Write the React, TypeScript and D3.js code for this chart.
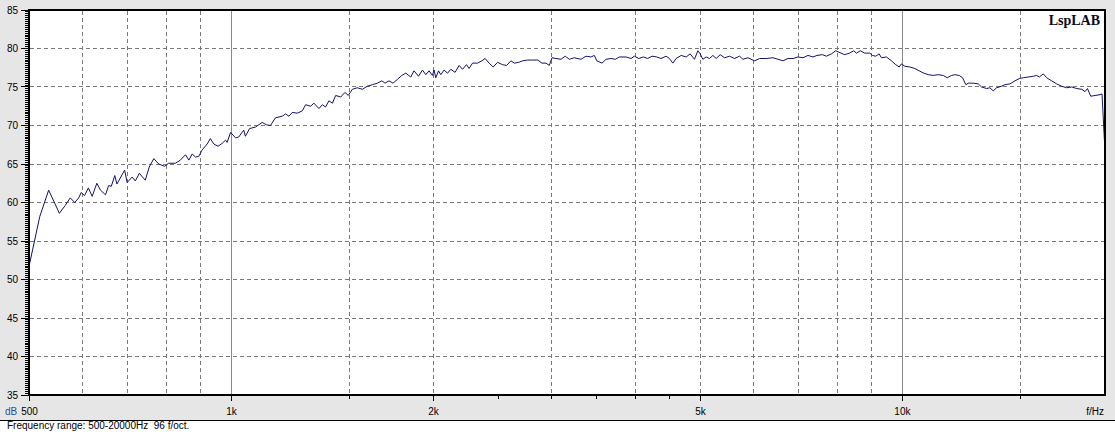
import React from 'react';
import * as d3 from 'd3';

const freqs: number[] = [
  500, 518, 534, 554, 565, 575, 584, 592, 597, 604, 612, 620, 630, 638, 649, 656, 662, 670, 675, 693,
  699, 711, 719, 729, 737, 744, 754, 766, 779, 795, 806, 825, 839, 854, 864, 874, 884, 894, 904, 920,
  930, 941, 955, 969, 980, 985, 997, 1014, 1025, 1043, 1049, 1064, 1086, 1111, 1127, 1143, 1163, 1190, 1204, 1218,
  1232, 1253, 1275, 1290, 1312, 1327, 1350, 1366, 1381, 1397, 1414, 1430, 1455, 1476, 1493, 1514, 1540, 1567, 1594, 1622,
  1650, 1675, 1694, 1717, 1741, 1768, 1794, 1819, 1850, 1871, 1900, 1926, 1948, 1970, 1993, 2004, 2016, 2035, 2051, 2074,
  2099, 2123, 2154, 2184, 2210, 2240, 2260, 2287, 2327, 2361, 2388, 2421, 2455, 2492, 2535, 2571, 2609, 2639, 2679, 2716,
  2763, 2811, 2860, 2902, 2942, 2976, 3004, 3045, 3098, 3144, 3188, 3243, 3318, 3376, 3435, 3474, 3503, 3567, 3616, 3679,
  3734, 3785, 3873, 3940, 3986, 4046, 4111, 4173, 4235, 4305, 4368, 4444, 4495, 4548, 4600, 4680, 4761, 4826, 4898, 4956,
  4995, 5042, 5100, 5158, 5218, 5278, 5351, 5430, 5525, 5620, 5718, 5785, 5885, 6020, 6124, 6267, 6413, 6524, 6637, 6752,
  6870, 6988, 7109, 7233, 7358, 7459, 7596, 7702, 7836, 7952, 8202, 8344, 8460, 8539, 8657, 8786, 8938, 9022, 9124, 9232,
  9305, 9466, 9630, 9774, 9889, 9967, 10081, 10256, 10433, 10593, 10761, 10925, 11115, 11308, 11504, 11663, 11837, 11971, 12153, 12292,
  12432, 12535, 12753, 12974, 13121, 13349, 13501, 13659, 13815, 14055, 14216, 14461, 14712, 14936, 15143, 15406, 15672, 15852, 15999, 16220,
  16406, 16690, 16979, 17273, 17573, 17878, 18188, 18503, 18714, 18870, 19084, 19369, 19705, 19839, 20000,
];
const levels: number[] = [
  52.0, 58.2, 61.6, 58.6, 59.6, 60.6, 60.0, 60.6, 61.3, 60.9, 61.9, 60.8, 62.5, 61.6, 61.0, 62.2, 62.1, 63.5, 62.4, 64.2,
  62.6, 63.3, 62.8, 63.8, 63.3, 62.9, 64.6, 65.7, 65.0, 64.7, 65.1, 65.1, 65.5, 66.2, 65.5, 66.3, 65.9, 66.0, 66.8, 67.6,
  68.3, 67.6, 67.3, 67.7, 68.1, 67.8, 69.1, 68.4, 68.5, 69.4, 68.6, 69.6, 69.8, 70.4, 70.1, 70.0, 71.0, 71.2, 71.5, 71.2,
  71.7, 71.6, 71.9, 72.7, 72.5, 72.9, 72.2, 72.7, 72.4, 73.2, 72.9, 73.9, 73.7, 74.3, 73.9, 74.7, 74.9, 74.7, 75.1, 75.3,
  75.5, 75.8, 75.5, 75.8, 75.5, 76.0, 76.5, 76.8, 76.3, 77.1, 76.4, 77.2, 76.6, 77.1, 76.5, 77.2, 76.2, 77.1, 76.6, 77.2,
  76.8, 77.3, 76.9, 77.8, 77.3, 77.9, 77.4, 78.1, 78.1, 78.4, 78.7, 78.1, 77.6, 78.2, 77.9, 77.8, 78.4, 78.1, 78.2, 78.4,
  78.5, 78.5, 78.5, 78.1, 78.1, 77.8, 78.8, 78.7, 78.6, 79.0, 78.6, 78.8, 78.6, 79.0, 78.9, 79.1, 78.4, 78.1, 78.6, 78.7,
  78.6, 78.9, 78.9, 78.7, 79.0, 78.7, 78.9, 78.7, 79.0, 78.9, 78.7, 79.0, 78.7, 78.1, 78.7, 79.1, 78.9, 79.3, 78.6, 79.7,
  79.3, 78.6, 78.9, 78.7, 79.1, 78.7, 79.2, 78.8, 79.0, 78.7, 79.0, 78.6, 78.8, 78.4, 78.7, 78.7, 78.8, 78.6, 78.4, 78.7,
  78.7, 78.9, 78.8, 79.1, 78.9, 79.1, 79.2, 79.0, 79.3, 79.7, 79.2, 79.4, 79.7, 79.4, 79.7, 79.4, 79.4, 79.1, 79.0, 79.3,
  78.8, 78.9, 78.4, 77.9, 77.6, 78.0, 77.7, 77.6, 77.4, 77.1, 76.8, 76.6, 76.5, 76.6, 76.5, 76.2, 76.5, 76.6, 76.5, 76.2,
  75.3, 75.5, 75.5, 75.4, 75.0, 74.8, 74.9, 74.5, 74.9, 75.1, 75.3, 75.4, 75.8, 76.1, 76.2, 76.3, 76.4, 76.5, 76.3, 76.7,
  76.2, 75.8, 75.4, 75.1, 74.9, 75.0, 74.8, 74.7, 74.4, 74.8, 73.8, 73.9, 74.0, 74.1, 68.1,
];

const yTicks: number[] = [35, 40, 45, 50, 55, 60, 65, 70, 75, 80, 85];
const xGridDashed: number[] = [600, 700, 800, 900, 1500, 2000, 3000, 4000, 5000, 6000, 7000, 8000, 9000, 15000];
const xGridSolid: number[] = [1000, 10000];
const xMajorTicks: number[] = [500, 1000, 2000, 5000, 10000];
const xMajorLabels: string[] = ['500', '1k', '2k', '5k', '10k'];
const xMinorTicks: number[] = [1500, 2500, 3000, 3500, 4000, 4500, 15000];

const W = 1115;
const H = 436;
const SANS = '"Liberation Sans", Arial, sans-serif';

export default function App() {
  const x = d3.scaleLog().domain([500, 20000]).range([29.5, 1104.4]);
  const y = d3.scaleLinear().domain([35, 85]).range([395, 10]);
  const snap = (v: number) => Math.floor(v) + 0.5;

  const pts: [number, number][] = freqs.map((f, i) => [f, levels[i]]);
  const path = d3
    .line<[number, number]>()
    .x((d) => x(d[0]))
    .y((d) => y(d[1]))(pts) as string;

  const minorY = d3.range(35, 85.001, 0.25);

  return (
    <svg
      width={W}
      height={H}
      style={{ position: 'absolute', left: 0, top: 0, display: 'block' }}
    >
      <rect x={0} y={0} width={W} height={420} fill="#e6e6e6" />
      <rect x={0} y={421} width={W} height={H - 421} fill="#ffffff" />
      <line x1={0} x2={W} y1={420.5} y2={420.5} stroke="#000" strokeWidth={1} />

      {/* plot background */}
      <rect x={29} y={10} width={1076} height={385} fill="#ffffff" />

      {/* horizontal grid */}
      {yTicks
        .filter((v) => v > 35 && v < 85)
        .map((v) => (
          <line
            key={'hg' + v}
            x1={30}
            x2={1104}
            y1={snap(y(v))}
            y2={snap(y(v))}
            stroke="#7a7a7a"
            strokeWidth={1}
            strokeDasharray="4 3"
          />
        ))}
      {/* vertical dashed grid */}
      {xGridDashed.map((f) => (
        <line
          key={'vg' + f}
          x1={snap(x(f))}
          x2={snap(x(f))}
          y1={11}
          y2={394}
          stroke="#7a7a7a"
          strokeWidth={1}
          strokeDasharray="4 3"
        />
      ))}
      {xGridSolid.map((f) => (
        <line
          key={'vs' + f}
          x1={snap(x(f))}
          x2={snap(x(f))}
          y1={11}
          y2={394}
          stroke="#8a8a8a"
          strokeWidth={1}
        />
      ))}

      {/* response curve */}
      <path d={path} fill="none" stroke="#12126e" strokeWidth={1} />

      {/* frame */}
      <rect x={29} y={10} width={1076} height={385} fill="none" stroke="#000" strokeWidth={2} />

      {/* y ticks */}
      {minorY.map((v, i) => (
        <line
          key={'my' + i}
          x1={25}
          x2={28}
          y1={snap(y(v))}
          y2={snap(y(v))}
          stroke="#000"
          strokeWidth={1}
        />
      ))}
      {yTicks.map((v) => (
        <line
          key={'ty' + v}
          x1={21}
          x2={28}
          y1={snap(y(v))}
          y2={snap(y(v))}
          stroke="#000"
          strokeWidth={1}
        />
      ))}
      {yTicks.map((v) => (
        <text
          key={'ly' + v}
          x={18}
          y={y(v)}
          dy="0.35em"
          textAnchor="end"
          fontFamily={SANS}
          fontSize={10}
          fill="#000"
        >
          {v}
        </text>
      ))}

      {/* x ticks */}
      {xMajorTicks.map((f) => (
        <line
          key={'tx' + f}
          x1={snap(x(f))}
          x2={snap(x(f))}
          y1={396}
          y2={401}
          stroke="#000"
          strokeWidth={1}
        />
      ))}
      {xMinorTicks.map((f) => (
        <line
          key={'mx' + f}
          x1={snap(x(f))}
          x2={snap(x(f))}
          y1={396}
          y2={399}
          stroke="#000"
          strokeWidth={1}
        />
      ))}
      {xMajorTicks.map((f, i) => (
        <text
          key={'lx' + f}
          x={x(f)}
          y={415}
          textAnchor="middle"
          fontFamily={SANS}
          fontSize={10}
          fill="#000"
        >
          {xMajorLabels[i]}
        </text>
      ))}
      <text x={5} y={415} fontFamily={SANS} fontSize={10} fill="#2a4cae">
        dB
      </text>
      <text x={1104} y={415} textAnchor="end" fontFamily={SANS} fontSize={10} fill="#000">
        f/Hz
      </text>

      <text
        x={1100}
        y={25}
        textAnchor="end"
        fontFamily='"Liberation Serif", "Times New Roman", serif'
        fontWeight="bold"
        fontSize={14}
        fill="#0a0a1e"
      >
        LspLAB
      </text>

      <text x={7} y={429} fontFamily={SANS} fontSize={10} fill="#000">
        Frequency range: 500-20000Hz{'\u00a0\u00a0'}96 f/oct.
      </text>
    </svg>
  );
}
